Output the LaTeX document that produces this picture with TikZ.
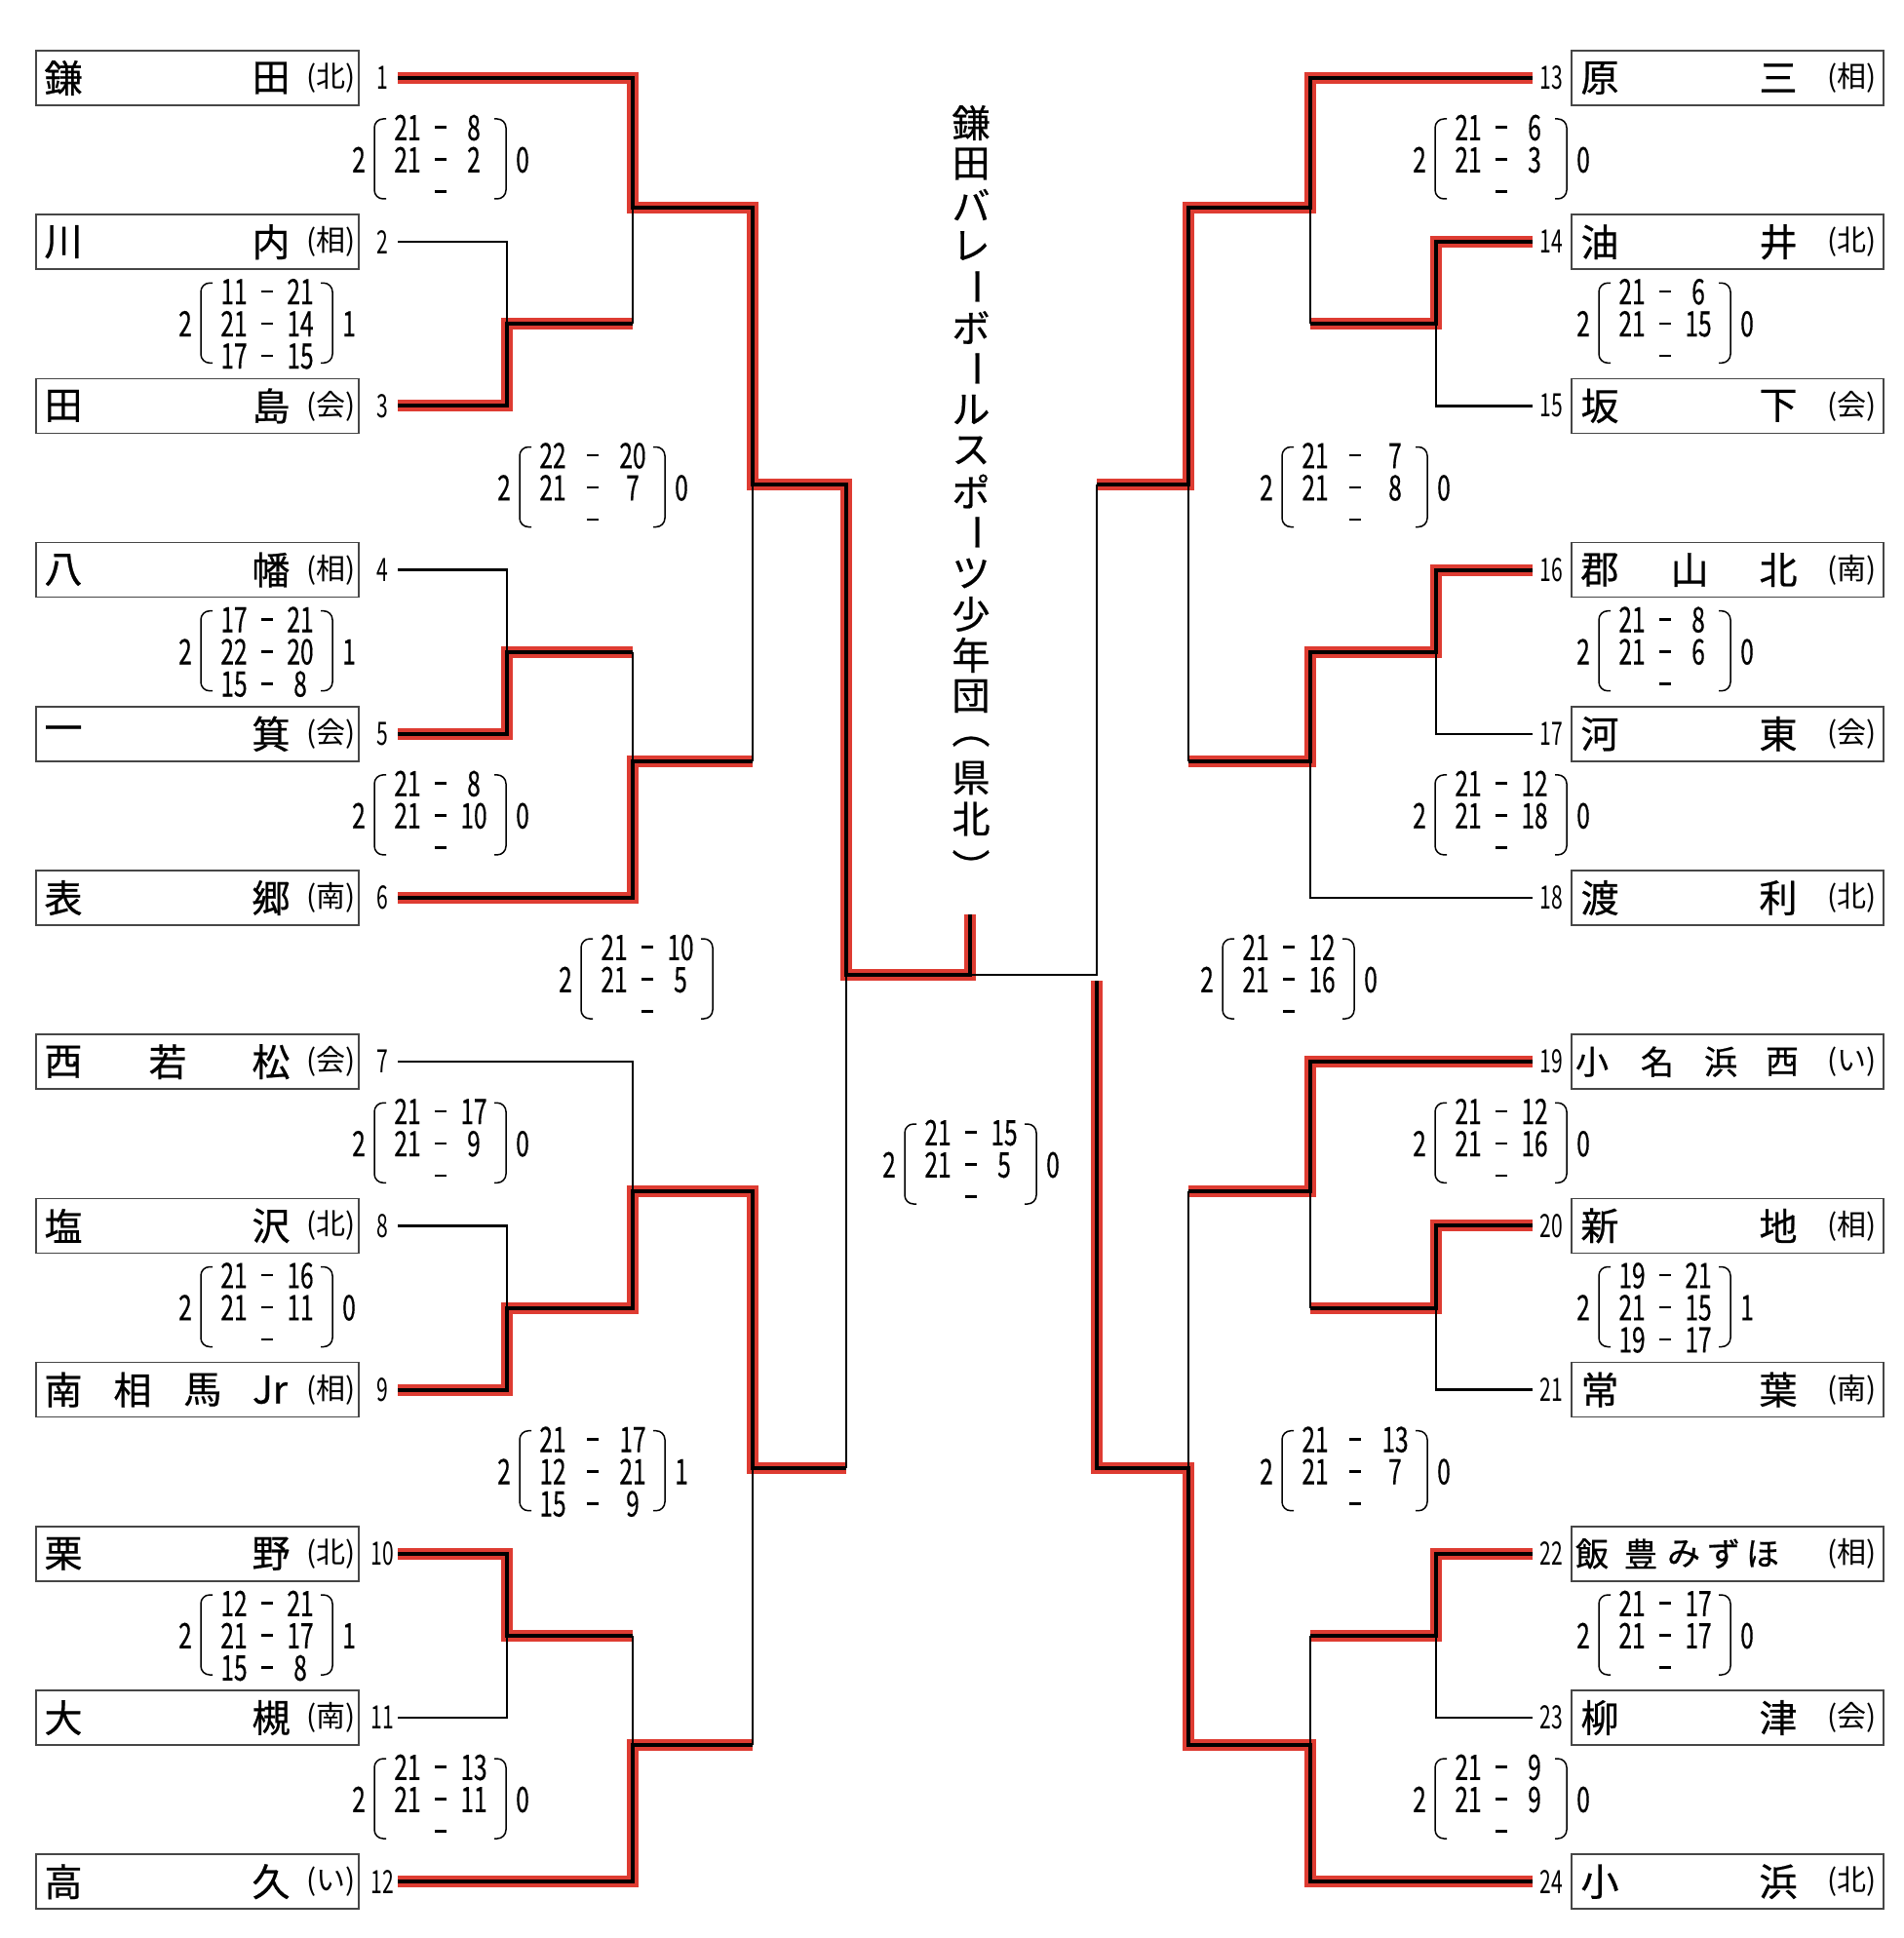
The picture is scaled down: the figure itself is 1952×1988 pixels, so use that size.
\documentclass[tikz,border=0pt]{standalone}
\usepackage{fontspec}
\setmainfont{Noto Sans CJK JP}
\newfontfamily\nmf[FakeBold=0.6]{Noto Sans CJK JP}
\newfontfamily\numf[FakeStretch=0.68,FakeBold=0.4]{Noto Sans CJK JP}
\newfontfamily\tnumf[FakeStretch=0.64]{Noto Sans CJK JP}
\definecolor{redc}{RGB}{222,60,50}
\definecolor{boxc}{RGB}{70,70,70}
\newlength\cw \newlength\dw \setlength\dw{20pt}
\newcommand\rw[2]{\vphantom{0}\makebox[\cw][c]{#1}\makebox[\dw][c]{\rule[12pt]{12pt}{2.4pt}}\makebox[\cw][c]{#2}}
\tikzset{
 thinln/.style={line width=2.5pt, black},
 redband/.style={line width=12pt, redc},
 blackwin/.style={line width=4pt, black},
 tbox/.style={draw=boxc, line width=1.5pt, minimum height=56pt, inner sep=0pt},
 nm/.style={inner sep=0pt, font=\nmf\fontsize{39}{41}\selectfont},
 nms/.style={inner sep=0pt, font=\nmf\fontsize{34}{36}\selectfont},
 rg/.style={inner sep=0pt, font=\fontsize{30}{32}\selectfont},
 tn/.style={inner sep=0pt, font=\tnumf\fontsize{33}{34}\selectfont},
 sc/.style={inner sep=0pt, font=\numf\fontsize{36}{37}\selectfont},
 paren/.style={line width=1.5pt, rounded corners=9pt},
 tt/.style={inner sep=0pt, font=\nmf\fontsize{39}{41}\selectfont},
}
\newcommand\lteam[3]{%
 \node[tbox, minimum width=331pt] (lb#1) at (202.5,#2) {};
 \node[tn] (ln#1) at (392,#2) {#1};
 \coordinate (L#1) at (408,#2);
 \node[rg, anchor=east] (lr#1) at (365,#2) {(#3)};}
\newcommand\rteam[3]{%
 \node[tbox, minimum width=320pt] (rb#1) at (1772,#2) {};
 \node[tn] (rn#1) at (1591,#2) {#1};
 \coordinate (R#1) at (1572,#2);
 \node[rg, anchor=east] (rr#1) at (1925,#2) {(#3)};}
\newcommand\lnameII[4]{\node[nm] (lc#1a) at (65,#2) {#3}; \node[nm] (lc#1b) at (278,#2) {#4};}
\newcommand\lnameIII[5]{\node[nm] (lc#1a) at (65,#2) {#3}; \node[nm] (lc#1b) at (172,#2) {#4}; \node[nm] (lc#1c) at (278,#2) {#5};}
\newcommand\lnameIV[6]{\node[nm] (lc#1a) at (65,#2) {#3}; \node[nm] (lc#1b) at (136,#2) {#4}; \node[nm] (lc#1c) at (208,#2) {#5}; \node[nm] (lc#1d) at (277,#2) {#6};}
\newcommand\rnameII[4]{\node[nm] (rc#1a) at (1641,#2) {#3}; \node[nm] (rc#1b) at (1824,#2) {#4};}
\newcommand\rnameIII[5]{\node[nm] (rc#1a) at (1641,#2) {#3}; \node[nm] (rc#1b) at (1733,#2) {#4}; \node[nm] (rc#1c) at (1824,#2) {#5};}
\newcommand\rnameIV[6]{\node[nms] (rc#1a) at (1633,#2) {#3}; \node[nms] (rc#1b) at (1700,#2) {#4}; \node[nms] (rc#1c) at (1765,#2) {#5}; \node[nms] (rc#1d) at (1828,#2) {#6};}
\newcommand\rnameV[7]{\node[nms] (rc#1a) at (1633,#2) {#3}; \node[nms] (rc#1b) at (1683,#2) {#4}; \node[nms] (rc#1c) at (1727,#2) {#5}; \node[nms] (rc#1d) at (1768,#2) {#6}; \node[nms] (rc#1e) at (1808,#2) {#7};}
\newcommand\score[9]{%
 \begin{scope}[shift={(#2,#3)}]
 \pgfmathsetlength\cw{2*#4-20}%
 \node[sc] (#1a) at (0,-33) {#7};
 \node[sc] (#1b) at (0,0) {#8};
 \node[sc] (#1c) at (0,33) {#9};
 \node[sc] (#1l) at ({-(#4+50)},0) {\vphantom{0}#5};
 \if\relax\detokenize{#6}\relax\else\node[sc] (#1r) at ({#4+50},0) {\vphantom{0}#6};\fi
 \draw[paren] ({-(#4+22)},-42) -- ({-(#4+34)},-42) -- ({-(#4+34)},40) -- ({-(#4+22)},40);
 \draw[paren] ({#4+21},-42) -- ({#4+33},-42) -- ({#4+33},40) -- ({#4+21},40);
 \end{scope}}
\newcommand\winners[1]{%
 \draw[#1] (L1) -| (j1) -| (q1) -| (sL) -- (fc) -- (ftop);
 \draw[#1] (L3) -| (j23) -- (e1b);
 \draw[#1] (L5) -| (j45) -- (e6a);
 \draw[#1] (L6) -| (j6) -- (eq1b);
 \draw[#1] (L9) -| (j89) -| (j7) -| (q2) -- (eSb);
 \draw[#1] (L10) -| (j1011) -- (e12a);
 \draw[#1] (L12) -| (j12) -- (eq2b);
 \draw[#1] (R13) -| (j13) -| (q3) -- (eSRa);
 \draw[#1] (R14) -| (j1415) -- (e13b);
 \draw[#1] (R16) -| (j1617) -| (j18) -- (eq3b);
 \draw[#1] (R19) -| (j19) -- (eq4a);
 \draw[#1] (R20) -| (j2021) -- (e19b);
 \draw[#1] (R22) -| (j2223) -- (e24a);
 \draw[#1] (R24) -| (j24) -| (q4) -| (sRb);}
\begin{document}
\begin{tikzpicture}[x=1pt,y=-1pt]
\fill[white] (0,0) rectangle (1952,1988);
\useasboundingbox (0,0) rectangle (1952,1988);
% left teams
\lteam{1}{80}{北}\lnameII{1}{80}{鎌}{田}
\lteam{2}{248.2}{相}\lnameII{2}{248.2}{川}{内}
\lteam{3}{416.4}{会}\lnameII{3}{416.4}{田}{島}
\lteam{4}{584.6}{相}\lnameII{4}{584.6}{八}{幡}
\lteam{5}{752.8}{会}\lnameII{5}{752.8}{一}{箕}
\lteam{6}{921}{南}\lnameII{6}{921}{表}{郷}
\lteam{7}{1089.2}{会}\lnameIII{7}{1089.2}{西}{若}{松}
\lteam{8}{1257.4}{北}\lnameII{8}{1257.4}{塩}{沢}
\lteam{9}{1425.6}{相}\lnameIV{9}{1425.6}{南}{相}{馬}{Jr}
\lteam{10}{1593.8}{北}\lnameII{10}{1593.8}{栗}{野}
\lteam{11}{1762}{南}\lnameII{11}{1762}{大}{槻}
\lteam{12}{1930.2}{い}\lnameII{12}{1930.2}{高}{久}
% right teams
\rteam{13}{80}{相}\rnameII{13}{80}{原}{三}
\rteam{14}{248.2}{北}\rnameII{14}{248.2}{油}{井}
\rteam{15}{416.4}{会}\rnameII{15}{416.4}{坂}{下}
\rteam{16}{584.6}{南}\rnameIII{16}{584.6}{郡}{山}{北}
\rteam{17}{752.8}{会}\rnameII{17}{752.8}{河}{東}
\rteam{18}{921}{北}\rnameII{18}{921}{渡}{利}
\rteam{19}{1089.2}{い}\rnameIV{19}{1089.2}{小}{名}{浜}{西}
\rteam{20}{1257.4}{相}\rnameII{20}{1257.4}{新}{地}
\rteam{21}{1425.6}{南}\rnameII{21}{1425.6}{常}{葉}
\rteam{22}{1593.8}{相}\rnameV{22}{1593.8}{飯}{豊}{み}{ず}{ほ}
\rteam{23}{1762}{会}\rnameII{23}{1762}{柳}{津}
\rteam{24}{1930.2}{北}\rnameII{24}{1930.2}{小}{浜}
% joints
\coordinate (j23) at (520,332.3);
\coordinate (e1b) at (649,332.3);
\coordinate (j1) at (649,213);
\coordinate (j45) at (520,668.7);
\coordinate (e6a) at (649,668.7);
\coordinate (j6) at (649,781);
\coordinate (eq1b) at (772,781);
\coordinate (q1) at (772,497);
\coordinate (j89) at (520,1341.5);
\coordinate (j7) at (649,1222);
\coordinate (j1011) at (520,1678);
\coordinate (e12a) at (649,1678);
\coordinate (j12) at (649,1790);
\coordinate (eq2b) at (772,1790);
\coordinate (q2) at (772,1506);
\coordinate (eSb) at (868,1506);
\coordinate (sL) at (868,1000);
\coordinate (fc) at (995,1000);
\coordinate (ftop) at (995,938);
\coordinate (j1415) at (1473,332.3);
\coordinate (e13b) at (1344,332.3);
\coordinate (j13) at (1344,213);
\coordinate (j1617) at (1473,668.7);
\coordinate (j18) at (1344,781);
\coordinate (eq3b) at (1219,781);
\coordinate (q3) at (1219,497);
\coordinate (eSRa) at (1125,497);
\coordinate (j2021) at (1473,1341.5);
\coordinate (e19b) at (1344,1341.5);
\coordinate (j19) at (1344,1222);
\coordinate (eq4a) at (1219,1222);
\coordinate (j2223) at (1473,1678);
\coordinate (e24a) at (1344,1678);
\coordinate (j24) at (1344,1790);
\coordinate (q4) at (1219,1506);
\coordinate (sR) at (1125,1000);
\coordinate (sRb) at (1125,1006);
% red bands
\winners{redband}
% losers
\draw[thinln] (L2) -| (j23);
\draw[thinln] (e1b) -- (j1);
\draw[thinln] (L4) -| (j45);
\draw[thinln] (e6a) -- (j6);
\draw[thinln] (eq1b) -- (q1);
\draw[thinln] (L7) -| (j7);
\draw[thinln] (L8) -| (j89);
\draw[thinln] (L11) -| (j1011);
\draw[thinln] (e12a) -- (j12);
\draw[thinln] (eq2b) -- (q2);
\draw[thinln] (eSb) -- (sL);
\draw[thinln] (R15) -| (j1415);
\draw[thinln] (e13b) -- (j13);
\draw[thinln] (R17) -| (j1617);
\draw[thinln] (R18) -| (j18);
\draw[thinln] (eq3b) -- (q3);
\draw[thinln] (R21) -| (j2021);
\draw[thinln] (e19b) -- (j19);
\draw[thinln] (eq4a) -- (q4);
\draw[thinln] (R23) -| (j2223);
\draw[thinln] (e24a) -- (j24);
\draw[thinln] (eSRa) -- (sR) -- (fc);
% winner cores
\winners{blackwin}
% scores
\score{s1}{452}{164}{34}{2}{0}{\rw{21}{8}}{\rw{21}{2}}{\rw{}{}}
\score{s2}{274}{332.3}{34}{2}{1}{\rw{11}{21}}{\rw{21}{14}}{\rw{17}{15}}
\score{s3}{608}{500.5}{41}{2}{0}{\rw{22}{20}}{\rw{21}{7}}{\rw{}{}}
\score{s4}{274}{668.7}{34}{2}{1}{\rw{17}{21}}{\rw{22}{20}}{\rw{15}{8}}
\score{s5}{452}{836.9}{34}{2}{0}{\rw{21}{8}}{\rw{21}{10}}{\rw{}{}}
\score{s6}{664}{1005}{34}{2}{}{\rw{21}{10}}{\rw{21}{5}}{\rw{}{}}
\score{s7}{452}{1173.3}{34}{2}{0}{\rw{21}{17}}{\rw{21}{9}}{\rw{}{}}
\score{s8}{274}{1341.5}{34}{2}{0}{\rw{21}{16}}{\rw{21}{11}}{\rw{}{}}
\score{s9}{608}{1509.7}{41}{2}{1}{\rw{21}{17}}{\rw{12}{21}}{\rw{15}{9}}
\score{s10}{274}{1678}{34}{2}{1}{\rw{12}{21}}{\rw{21}{17}}{\rw{15}{8}}
\score{s11}{452}{1846}{34}{2}{0}{\rw{21}{13}}{\rw{21}{11}}{\rw{}{}}
\score{sf}{996}{1195}{34}{2}{0}{\rw{21}{15}}{\rw{21}{5}}{\rw{}{}}
\score{s13}{1540}{164}{34}{2}{0}{\rw{21}{6}}{\rw{21}{3}}{\rw{}{}}
\score{s14}{1708}{332.3}{34}{2}{0}{\rw{21}{6}}{\rw{21}{15}}{\rw{}{}}
\score{s15}{1390}{500.5}{41}{2}{0}{\rw{21}{7}}{\rw{21}{8}}{\rw{}{}}
\score{s16}{1708}{668.7}{34}{2}{0}{\rw{21}{8}}{\rw{21}{6}}{\rw{}{}}
\score{s17}{1540}{836.9}{34}{2}{0}{\rw{21}{12}}{\rw{21}{18}}{\rw{}{}}
\score{s18}{1322}{1005}{34}{2}{0}{\rw{21}{12}}{\rw{21}{16}}{\rw{}{}}
\score{s19}{1540}{1173.3}{34}{2}{0}{\rw{21}{12}}{\rw{21}{16}}{\rw{}{}}
\score{s20}{1708}{1341.5}{34}{2}{1}{\rw{19}{21}}{\rw{21}{15}}{\rw{19}{17}}
\score{s21}{1390}{1509.7}{41}{2}{0}{\rw{21}{13}}{\rw{21}{7}}{\rw{}{}}
\score{s22}{1708}{1678}{34}{2}{0}{\rw{21}{17}}{\rw{21}{17}}{\rw{}{}}
\score{s23}{1540}{1846}{34}{2}{0}{\rw{21}{9}}{\rw{21}{9}}{\rw{}{}}
% title
\node[tt] (t1) at (996,126) {鎌};
\node[tt] (t2) at (996,168) {田};
\node[tt] (t3) at (996,210) {バ};
\node[tt] (t4) at (996,252) {レ};
\node[tt, rotate=-90] (t5) at (996,294) {ー};
\node[tt] (t6) at (996,336) {ボ};
\node[tt, rotate=-90] (t7) at (996,378) {ー};
\node[tt] (t8) at (996,420) {ル};
\node[tt] (t9) at (996,462) {ス};
\node[tt] (t10) at (996,504) {ポ};
\node[tt, rotate=-90] (t11) at (996,546) {ー};
\node[tt] (t12) at (996,588) {ツ};
\node[tt] (t13) at (996,630) {少};
\node[tt] (t14) at (996,672) {年};
\node[tt] (t15) at (996,714) {団};
\node[tt, rotate=-90] (t16) at (996,748) {（};
\node[tt] (t17) at (996,798) {県};
\node[tt] (t18) at (996,840) {北};
\node[tt, rotate=-90] (t19) at (996,890) {）};
\end{tikzpicture}
\end{document}
